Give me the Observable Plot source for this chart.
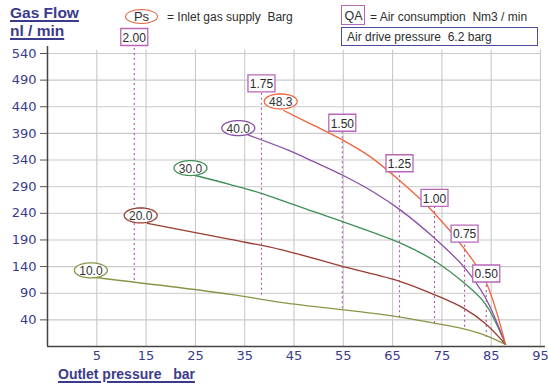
<!DOCTYPE html>
<html>
<head>
<meta charset="utf-8">
<script src="https://cdn.jsdelivr.net/npm/d3@7"></script>
<script src="https://cdn.jsdelivr.net/npm/@observablehq/plot@0.6"></script>
<style>
  html, body { margin: 0; padding: 0; background: #fff; }
  #wrap { position: relative; width: 548px; height: 387px; overflow: hidden; font-family: "Liberation Sans", Arial, sans-serif; }
  #wrap svg { position: absolute; left: 0; top: 0; }
  .ov { position: absolute; white-space: pre; line-height: 1; }
  .ttl { color: #3b3b8c; font-weight: bold; text-decoration: underline; text-decoration-thickness: 1.5px; text-underline-offset: 2px; }
  .leg { color: #2e2e2e; font-size: 12px; }
  svg g[aria-label^="y-axis"] line, svg g[aria-label^="y-axis"] path { stroke: #555; }
  svg g[aria-label^="x-axis"] line, svg g[aria-label^="x-axis"] path { stroke: none; }
</style>
</head>
<body>
<div id="wrap">
  <div id="chart"></div>
  <div class="ov ttl" style="left:10px;top:5px;font-size:15.5px;">Gas Flow</div>
  <div class="ov ttl" style="left:10px;top:23px;font-size:15.5px;">nl / min</div>
  <div class="ov ttl" style="left:58px;top:367px;font-size:14px;">Outlet pressure   bar</div>
  <div class="ov" style="left:125px;top:9px;width:31px;height:13px;border:1.3px solid #e8603a;border-radius:50%;"></div>
  <div class="ov leg" style="left:125px;top:10px;width:33px;text-align:center;font-size:13px;">Ps</div>
  <div class="ov leg" style="left:167px;top:11px;">= Inlet gas supply  Barg</div>
  <div class="ov" style="left:341px;top:5px;width:22px;height:18px;border:1.3px solid #b866b8;"></div>
  <div class="ov leg" style="left:341px;top:10px;width:25px;text-align:center;font-size:12.5px;">QA</div>
  <div class="ov leg" style="left:370px;top:11px;">= Air consumption  Nm3 / min</div>
  <div class="ov" style="left:341px;top:27px;width:195px;height:17px;border:1.4px solid #4b4b9b;"></div>
  <div class="ov leg" style="left:347px;top:31px;">Air drive pressure  6.2 barg</div>
</div>
<script>
// ---- data ----
const xTicks = [5, 15, 25, 35, 45, 55, 65, 75, 85, 95];
const yTicks = [40, 90, 140, 190, 240, 290, 340, 390, 440, 490, 540];

const seriesNames = ["10.0", "20.0", "30.0", "40.0", "48.3"];
const seriesColors = ["#8c9447", "#9a3b2e", "#3e8f55", "#8a4fa6", "#f0643c"];

const x10 = [4.3, 32.1, 42.3, 64.6, 73.3, 79.4, 83.8, 87.9];
const y10 = [120, 88, 73, 48, 34, 23, 11, -6];
const x20 = [15.3, 32.1, 42.3, 55.0, 66.6, 73.3, 79.4, 83.8, 87.9];
const y20 = [221, 191, 172, 140, 112, 88, 62, 33, -6];
const x30 = [25.0, 32.1, 38.2, 49.0, 55.0, 66.6, 73.3, 79.4, 83.8, 87.9];
const y30 = [311, 294, 278, 243, 224, 184, 152, 110, 70, -6];
const x40 = [34.8, 43.7, 49.0, 55.0, 61.1, 66.6, 73.3, 79.4, 83.8, 87.9];
const y40 = [390, 359, 337, 311, 280, 246, 195, 140, 82, -6];
const x48 = [42.9, 49.0, 55.0, 60.5, 66.6, 73.3, 79.4, 83.8, 87.9];
const y48 = [433, 405, 377, 346, 300, 242, 175, 114, -6];

const seriesLabelX = [3.8, 13.9, 24.0, 33.7, 42.3];
const seriesLabelY = [133, 236, 325, 400, 450];

const qaLabels = ["2.00", "1.75", "1.50", "1.25", "1.00", "0.75", "0.50"];
const qaX = [12.6, 38.4, 54.8, 66.4, 73.5, 79.6, 84.0];
const qaBoxY = [571, 484, 410, 334, 269, 202, 127];
const qaBottomY = [114, 86, 61, 44, 33, 26, 7];

// ---- tables built from the arrays ----
const xs = [x10, x20, x30, x40, x48];
const ys = [y10, y20, y30, y40, y48];
const curves = seriesNames.flatMap((s, i) => xs[i].map((x, j) => ({series: s, x, y: ys[i][j]})));
const seriesLabels = seriesNames.map((s, i) => ({series: s, x: seriesLabelX[i], y: seriesLabelY[i], color: seriesColors[i]}));
const qa = qaLabels.map((t, i) => ({label: t, x: qaX[i], y1: qaBottomY[i], y2: qaBoxY[i]}));

// custom symbols
const ellipseSymbol = {draw(ctx) {
  const rx = 16.5, ry = 7.5, n = 48;
  for (let k = 0; k <= n; k++) {
    const a = (k / n) * 2 * Math.PI;
    const px = rx * Math.cos(a), py = ry * Math.sin(a);
    if (k === 0) ctx.moveTo(px, py); else ctx.lineTo(px, py);
  }
  ctx.closePath();
}};
const boxSymbol = {draw(ctx) {
  const w = 13.5, h = 8.5;
  ctx.moveTo(-w, -h); ctx.lineTo(w, -h); ctx.lineTo(w, h); ctx.lineTo(-w, h); ctx.closePath();
}};

const chart = Plot.plot({
  width: 548,
  height: 387,
  marginLeft: 47,
  marginRight: 8,
  marginTop: 53,
  marginBottom: 41,
  style: {fontFamily: "DejaVu Sans, sans-serif", fontSize: "13px", color: "#3b3b8c", background: "transparent", overflow: "visible"},
  x: {domain: [-5, 95], ticks: xTicks, tickSize: 0, tickPadding: 4, label: null, tickFormat: d => String(d)},
  y: {domain: [-10, 540], ticks: yTicks, tickSize: 7, tickPadding: 4, label: null, tickFormat: d => String(d)},
  color: {domain: seriesNames, range: seriesColors},
  marks: [
    Plot.ruleX(xTicks, {x: d => d, y1: -10, y2: 546, stroke: "#c9c9c9", strokeWidth: 1.1}),
    Plot.ruleY(yTicks, {y: d => d, x1: -5, x2: 95, stroke: "#c9c9c9", strokeWidth: 1.1}),
    Plot.ruleX([-5], {y1: -10, y2: 553, stroke: "#444", strokeWidth: 1.5}),
    Plot.ruleY([-10], {x1: -5, x2: 96, stroke: "#444", strokeWidth: 1.5}),
    Plot.ruleX(qa, {x: "x", y1: "y1", y2: "y2", stroke: "#b04fb0", strokeWidth: 1.1, strokeDasharray: "2,3"}),
    Plot.line(curves, {x: "x", y: "y", z: "series", stroke: "series", strokeWidth: 1.3, curve: "catmull-rom"}),
    Plot.dot(seriesLabels, {x: "x", y: "y", symbol: ellipseSymbol, r: 5, fill: "white", stroke: "color", strokeWidth: 1.3}),
    Plot.text(seriesLabels, {x: "x", y: "y", text: "series", fill: "#333", fontSize: 12, fontFamily: "Liberation Sans, Arial, sans-serif", dy: 1}),
    Plot.dot(qa, {x: "x", y: "y2", symbol: boxSymbol, r: 5, fill: "white", stroke: "#b866b8", strokeWidth: 1.3}),
    Plot.text(qa, {x: "x", y: "y2", text: "label", fill: "#2a2a2a", fontSize: 12, fontFamily: "Liberation Sans, Arial, sans-serif", dy: 1})
  ]
});
document.getElementById("chart").appendChild(chart);
</script>
</body>
</html>
